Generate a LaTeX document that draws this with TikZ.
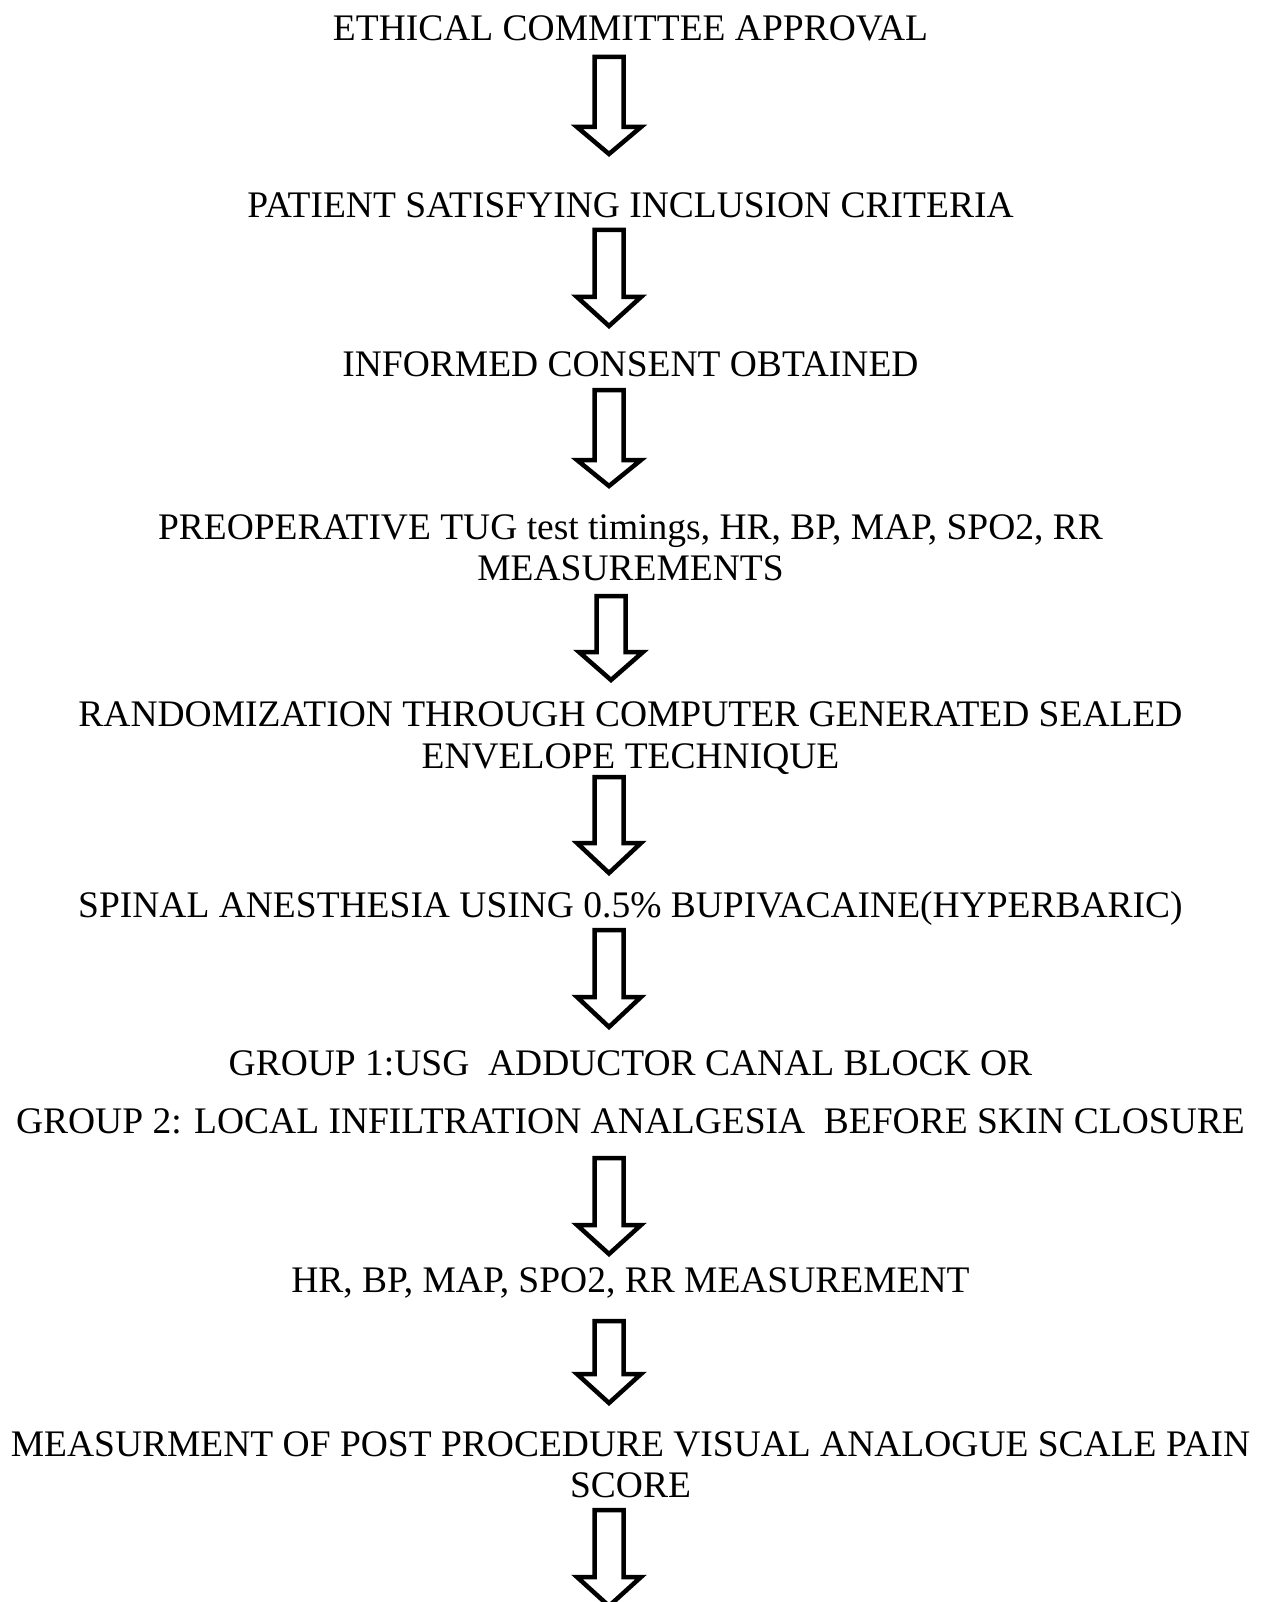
\documentclass[tikz,border=0pt]{standalone}
\usepackage{fontspec}
\setmainfont{Liberation Serif}
\tikzset{
  lbl/.style={anchor=base, inner sep=0pt, font=\fontsize{37.5}{40}\selectfont},
  barrow/.style={draw=black, line width=4.5pt, line join=miter, miter limit=10, fill=white}
}
\newcommand\blockarrow[4]{%
  \draw[barrow] (#1-14.5,#2) -- (#1+14.5,#2) -- (#1+14.5,#3) -- (#1+32,#3) -- (#1,#4) -- (#1-32,#3) -- (#1-14.5,#3) -- cycle;}
\begin{document}
\begin{tikzpicture}[x=1pt,y=-1pt]
\useasboundingbox (0,0) rectangle (1261,1602);
\fill[white] (0,0) rectangle (1261,1602);
\node[lbl] (l1) at (630.5,41) {ETHICAL COMMITTEE APPROVAL};
\node[lbl] (l2) at (630.5,218) {PATIENT SATISFYING INCLUSION CRITERIA};
\node[lbl] (l3) at (630.5,376) {INFORMED CONSENT OBTAINED};
\node[lbl] (l4a) at (630.5,539) {PREOPERATIVE TUG test timings, HR, BP, MAP, SPO2, RR};
\node[lbl] (l4b) at (630.5,580) {MEASUREMENTS};
\node[lbl] (l5a) at (630.5,726) {RANDOMIZATION THROUGH COMPUTER GENERATED SEALED};
\node[lbl] (l5b) at (630.5,768) {ENVELOPE TECHNIQUE};
\node[lbl] (l6) at (630.5,917) {SPINAL ANESTHESIA USING 0.5\% BUPIVACAINE(HYPERBARIC)};
\node[lbl] (l7a) at (630.5,1075) {GROUP 1:USG\ \ ADDUCTOR CANAL BLOCK OR};
\node[lbl] (l7b) at (630.5,1133) {GROUP 2: LOCAL INFILTRATION ANALGESIA\ \ BEFORE SKIN CLOSURE};
\node[lbl] (l8) at (630.5,1292) {HR, BP, MAP, SPO2, RR MEASUREMENT};
\node[lbl] (l9a) at (630.5,1456) {MEASURMENT OF POST PROCEDURE VISUAL ANALOGUE SCALE PAIN};
\node[lbl] (l9b) at (630.5,1497) {SCORE};
\blockarrow{609}{57}{127}{154}
\blockarrow{609}{230}{297}{326}
\blockarrow{609}{390}{460}{486}
\blockarrow{611}{596}{652}{680}
\blockarrow{609}{777}{843}{873}
\blockarrow{609}{930}{997}{1027}
\blockarrow{609}{1158}{1225}{1254}
\blockarrow{609}{1321}{1374}{1403}
\blockarrow{609}{1510}{1577}{1606}
\end{tikzpicture}
\end{document}
